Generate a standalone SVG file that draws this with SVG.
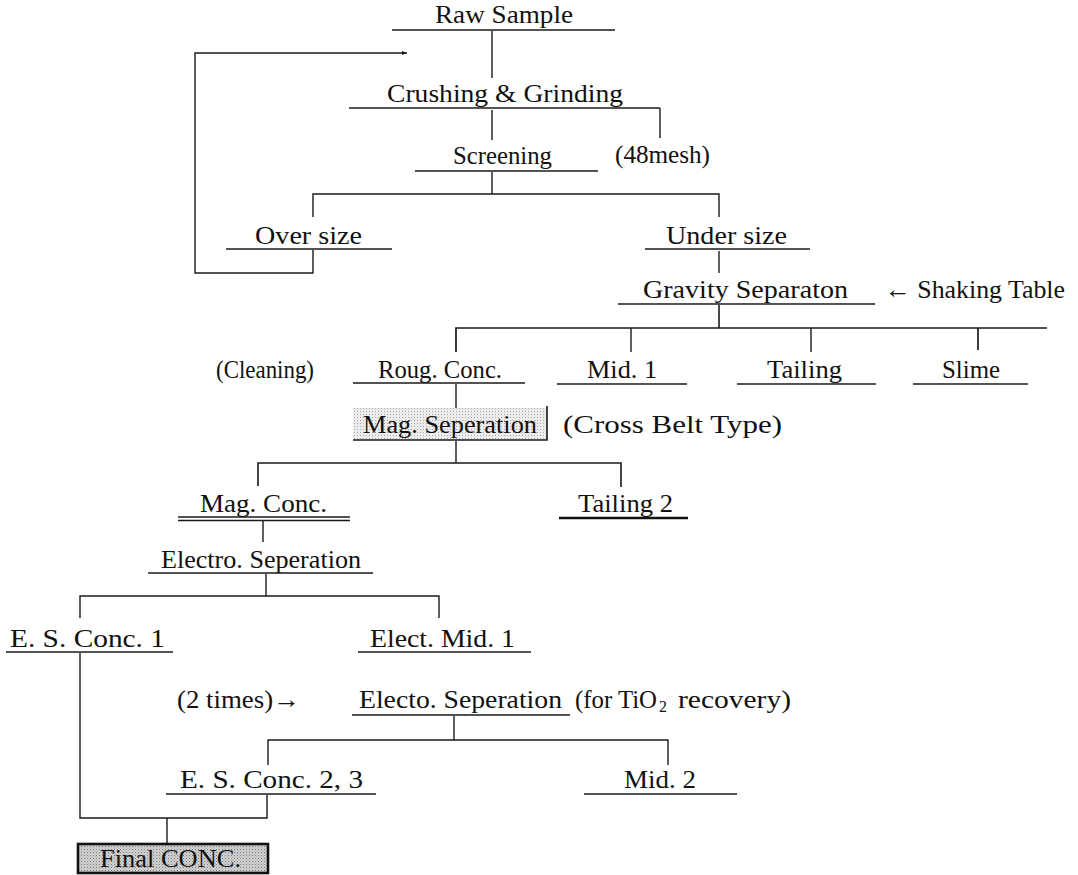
<svg xmlns="http://www.w3.org/2000/svg" width="1078" height="875" viewBox="0 0 1078 875">
<style>
  text { font-family: "Liberation Serif", "Times New Roman", serif; font-size: 26px; fill: #111; }
  .ln { stroke: #1a1a1a; stroke-width: 1.4; fill: none; }
  .ul { stroke: #1a1a1a; stroke-width: 1.4; fill: none; }
  .thick { stroke: #111; stroke-width: 2.6; fill: none; }
</style>
<defs>
  <marker id="arr" markerWidth="6" markerHeight="6" refX="5" refY="3" orient="auto" markerUnits="userSpaceOnUse">
    <path d="M0,1 L5,3 L0,5 z" fill="#1a1a1a"/>
  </marker>
  <pattern id="dots1" width="3" height="3" patternUnits="userSpaceOnUse">
    <rect width="3" height="3" fill="#ececec"/>
    <rect width="1" height="1" fill="#a8a8a8"/>
  </pattern>
  <pattern id="dots2" width="3" height="3" patternUnits="userSpaceOnUse">
    <rect width="3" height="3" fill="#d2d2d2"/>
    <rect width="1" height="1" fill="#7a7a7a"/>
    <rect x="1.5" y="1.5" width="1" height="1" fill="#9a9a9a"/>
  </pattern>
</defs>
<rect width="1078" height="875" fill="#fff"/>

<g id="connectors">
  <path class="ln" d="M492,31 V78"/>
  <path class="ln" d="M492,110 V140"/>
  <path class="ln" d="M660,108 V138"/>
  <path class="ln" d="M492,172 V194"/>
  <path class="ln" d="M313,217 V194 H719 V217"/>
  <path class="ln" d="M313,250 V273 H195 V53 H407" marker-end="url(#arr)"/>
  <path class="ln" d="M719,251 V273"/>
  <path class="ln" style="stroke-width:1.6" d="M719,305 V328"/>
  <path class="ln" style="stroke-width:1.7" d="M456,352 V328 H1047"/>
  <path class="ln" d="M631,328 V352"/>
  <path class="ln" d="M811,328 V352"/>
  <path class="ln" style="stroke-width:1.7" d="M978,328 V350"/>
  <path class="ln" d="M456,384 V408"/>
  <path class="ln" d="M456,441 V463"/>
  <path class="ln" style="stroke-width:1.6" d="M258,486 V463 H621 V487"/>
  <path class="ln" d="M263,521 V542"/>
  <path class="ln" d="M266,574 V596"/>
  <path class="ln" d="M80,618 V596 H439 V618"/>
  <path class="ln" d="M80,653 V818 H267 V795"/>
  <path class="ln" d="M167,818 V843"/>
  <path class="ln" d="M454,716 V740"/>
  <path class="ln" d="M268,765 V740 H668 V765"/>
</g>

<g id="raw-sample">
  <text x="435" y="23" textLength="138" lengthAdjust="spacingAndGlyphs">Raw  Sample</text>
  <path class="ul" d="M392,30 H615"/>
</g>
<g id="crushing-grinding">
  <text x="387" y="102" textLength="236" lengthAdjust="spacingAndGlyphs">Crushing &amp; Grinding</text>
  <path class="ul" d="M349,108 H660"/>
</g>
<g id="screening">
  <text x="453" y="164" textLength="99" lengthAdjust="spacingAndGlyphs">Screening</text>
  <path class="ul" d="M415,171 H598"/>
</g>
<g id="mesh-label">
  <text x="615" y="163" textLength="95" lengthAdjust="spacingAndGlyphs">(48mesh)</text>
</g>
<g id="over-size">
  <text x="255" y="244" textLength="107" lengthAdjust="spacingAndGlyphs">Over size</text>
  <path class="ul" d="M226,249 H392"/>
</g>
<g id="under-size">
  <text x="666" y="244" textLength="121" lengthAdjust="spacingAndGlyphs">Under size</text>
  <path class="ul" d="M645,249 H810"/>
</g>
<g id="gravity-separation">
  <text x="643" y="298" textLength="205" lengthAdjust="spacingAndGlyphs">Gravity Separaton</text>
  <path class="ul" d="M618,304 H875"/>
</g>
<g id="shaking-table">
  <text x="885" y="298" textLength="180" lengthAdjust="spacingAndGlyphs">← Shaking Table</text>
</g>
<g id="cleaning-label">
  <text x="216" y="378" textLength="98" lengthAdjust="spacingAndGlyphs">(Cleaning)</text>
</g>
<g id="roug-conc">
  <text x="378" y="378" textLength="124" lengthAdjust="spacingAndGlyphs">Roug. Conc.</text>
  <path class="ul" d="M353,383 H525"/>
</g>
<g id="mid-1">
  <text x="587" y="378" textLength="70" lengthAdjust="spacingAndGlyphs">Mid. 1</text>
  <path class="ul" d="M557,384 H687"/>
</g>
<g id="tailing">
  <text x="767" y="378" textLength="75" lengthAdjust="spacingAndGlyphs">Tailing</text>
  <path class="ul" d="M737,384 H876"/>
</g>
<g id="slime">
  <text x="942" y="378" textLength="58" lengthAdjust="spacingAndGlyphs">Slime</text>
  <path class="ul" d="M913,384 H1028"/>
</g>
<g id="mag-separation">
  <rect x="353" y="408" width="194" height="32" fill="url(#dots1)"/>
  <path class="ln" style="stroke-width:1.6" d="M547,406 V440 H353"/>
  <text x="363" y="433" textLength="174" lengthAdjust="spacingAndGlyphs">Mag. Seperation</text>
</g>
<g id="cross-belt-label">
  <text x="563" y="433" textLength="219" lengthAdjust="spacingAndGlyphs">(Cross Belt Type)</text>
</g>
<g id="mag-conc">
  <text x="200" y="512" textLength="127" lengthAdjust="spacingAndGlyphs">Mag. Conc.</text>
  <path class="ul" d="M178,517 H350 M178,520.5 H350"/>
</g>
<g id="tailing-2">
  <text x="578" y="512" textLength="95" lengthAdjust="spacingAndGlyphs">Tailing 2</text>
  <path class="thick" d="M559,518 H688"/>
</g>
<g id="electro-separation">
  <text x="161" y="568" textLength="200" lengthAdjust="spacingAndGlyphs">Electro. Seperation</text>
  <path class="ul" d="M148,573 H373"/>
</g>
<g id="es-conc-1">
  <text x="10" y="647" textLength="155" lengthAdjust="spacingAndGlyphs">E. S. Conc. 1</text>
  <path class="ul" d="M6,652 H173"/>
</g>
<g id="elect-mid-1">
  <text x="370" y="647" textLength="145" lengthAdjust="spacingAndGlyphs">Elect. Mid. 1</text>
  <path class="ul" d="M358,652 H531"/>
</g>
<g id="two-times-label">
  <text x="177" y="708" textLength="123" lengthAdjust="spacingAndGlyphs">(2 times)→</text>
</g>
<g id="electo-separation">
  <text x="359" y="708" textLength="203" lengthAdjust="spacingAndGlyphs">Electo. Seperation</text>
  <path class="ul" d="M352,715 H570"/>
</g>
<g id="tio2-label">
  <text x="575" y="708" textLength="82" lengthAdjust="spacingAndGlyphs">(for TiO</text>
  <text x="659" y="712" style="font-size:16px">2</text>
  <text x="678" y="708" textLength="113" lengthAdjust="spacingAndGlyphs">recovery)</text>
</g>
<g id="es-conc-2-3">
  <text x="180" y="788" textLength="183" lengthAdjust="spacingAndGlyphs">E. S. Conc. 2, 3</text>
  <path class="ul" d="M166,794 H376"/>
</g>
<g id="mid-2">
  <text x="624" y="788" textLength="72" lengthAdjust="spacingAndGlyphs">Mid. 2</text>
  <path class="ul" d="M584,794 H737"/>
</g>
<g id="final-conc">
  <rect x="78" y="844" width="190" height="29" fill="url(#dots2)" stroke="#111" stroke-width="2.6"/>
  <text x="100" y="867" textLength="141" lengthAdjust="spacingAndGlyphs">Final CONC.</text>
</g>
</svg>
